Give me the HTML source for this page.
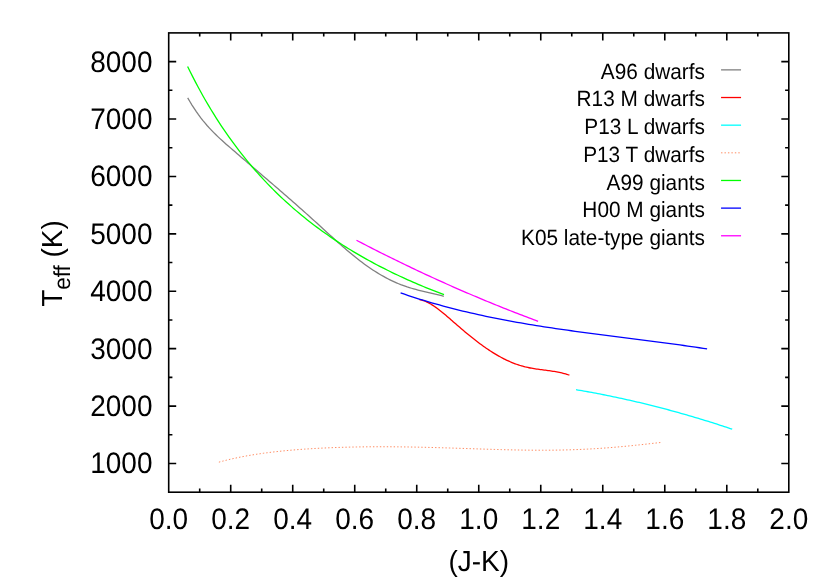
<!DOCTYPE html><html><head><meta charset="utf-8"><style>html,body{margin:0;padding:0;background:#fff}svg{display:block}text{text-rendering:geometricPrecision;font-family:"Liberation Sans",sans-serif;fill:#000}</style></head><body>
<div style="will-change:transform;width:830px;height:581px">
<svg width="830" height="581" viewBox="0 0 830 581">
<rect width="830" height="581" fill="#fff"/>
<path d="M199.70,492.20 v-3.70 M199.70,32.90 v3.70 M230.71,492.20 v-7.50 M230.71,32.90 v7.50 M261.71,492.20 v-3.70 M261.71,32.90 v3.70 M292.72,492.20 v-7.50 M292.72,32.90 v7.50 M323.72,492.20 v-3.70 M323.72,32.90 v3.70 M354.73,492.20 v-7.50 M354.73,32.90 v7.50 M385.74,492.20 v-3.70 M385.74,32.90 v3.70 M416.74,492.20 v-7.50 M416.74,32.90 v7.50 M447.74,492.20 v-3.70 M447.74,32.90 v3.70 M478.75,492.20 v-7.50 M478.75,32.90 v7.50 M509.75,492.20 v-3.70 M509.75,32.90 v3.70 M540.76,492.20 v-7.50 M540.76,32.90 v7.50 M571.76,492.20 v-3.70 M571.76,32.90 v3.70 M602.77,492.20 v-7.50 M602.77,32.90 v7.50 M633.77,492.20 v-3.70 M633.77,32.90 v3.70 M664.78,492.20 v-7.50 M664.78,32.90 v7.50 M695.78,492.20 v-3.70 M695.78,32.90 v3.70 M726.79,492.20 v-7.50 M726.79,32.90 v7.50 M757.79,492.20 v-3.70 M757.79,32.90 v3.70 M168.70,463.49 h7.50 M788.80,463.49 h-7.50 M168.70,434.79 h3.70 M788.80,434.79 h-3.70 M168.70,406.08 h7.50 M788.80,406.08 h-7.50 M168.70,377.38 h3.70 M788.80,377.38 h-3.70 M168.70,348.67 h7.50 M788.80,348.67 h-7.50 M168.70,319.96 h3.70 M788.80,319.96 h-3.70 M168.70,291.26 h7.50 M788.80,291.26 h-7.50 M168.70,262.55 h3.70 M788.80,262.55 h-3.70 M168.70,233.84 h7.50 M788.80,233.84 h-7.50 M168.70,205.14 h3.70 M788.80,205.14 h-3.70 M168.70,176.43 h7.50 M788.80,176.43 h-7.50 M168.70,147.73 h3.70 M788.80,147.73 h-3.70 M168.70,119.02 h7.50 M788.80,119.02 h-7.50 M168.70,90.31 h3.70 M788.80,90.31 h-3.70 M168.70,61.61 h7.50 M788.80,61.61 h-7.50" stroke="#000" stroke-width="1.6" fill="none"/>
<path d="M187.70,97.81 L189.85,101.54 L192.00,105.09 L194.16,108.45 L196.31,111.65 L198.46,114.69 L200.61,117.58 L202.76,120.34 L204.92,122.96 L207.07,125.47 L209.22,127.87 L211.37,130.17 L213.53,132.39 L215.68,134.53 L217.83,136.60 L219.98,138.61 L222.13,140.57 L224.29,142.49 L226.44,144.39 L228.59,146.26 L230.74,148.13 L232.89,150.00 L235.05,151.86 L237.20,153.72 L239.35,155.57 L241.50,157.43 L243.65,159.28 L245.81,161.12 L247.96,162.97 L250.11,164.82 L252.26,166.66 L254.42,168.51 L256.57,170.35 L258.72,172.20 L260.87,174.04 L263.02,175.89 L265.18,177.73 L267.33,179.58 L269.48,181.43 L271.63,183.28 L273.78,185.13 L275.94,186.99 L278.09,188.85 L280.24,190.71 L282.39,192.57 L284.54,194.44 L286.70,196.31 L288.85,198.19 L291.00,200.07 L293.15,201.95 L295.31,203.84 L297.46,205.74 L299.61,207.64 L301.76,209.54 L303.91,211.46 L306.07,213.38 L308.22,215.31 L310.37,217.24 L312.52,219.18 L314.67,221.13 L316.83,223.09 L318.98,225.05 L321.13,227.02 L323.28,228.99 L325.43,230.96 L327.59,232.93 L329.74,234.89 L331.89,236.85 L334.04,238.80 L336.19,240.74 L338.35,242.66 L340.50,244.57 L342.65,246.46 L344.80,248.33 L346.96,250.18 L349.11,252.01 L351.26,253.81 L353.41,255.58 L355.56,257.32 L357.72,259.03 L359.87,260.71 L362.02,262.34 L364.17,263.94 L366.32,265.50 L368.48,267.02 L370.63,268.49 L372.78,269.92 L374.93,271.31 L377.08,272.66 L379.24,273.96 L381.39,275.22 L383.54,276.44 L385.69,277.61 L387.85,278.74 L390.00,279.83 L392.15,280.87 L394.30,281.87 L396.45,282.82 L398.61,283.73 L400.76,284.60 L402.91,285.41 L405.06,286.19 L407.21,286.92 L409.37,287.60 L411.52,288.25 L413.67,288.86 L415.82,289.45 L417.97,290.01 L420.13,290.54 L422.28,291.06 L424.43,291.57 L426.58,292.07 L428.74,292.57 L430.89,293.07 L433.04,293.57 L435.19,294.08 L437.34,294.61 L439.50,295.15 L441.65,295.71 L443.80,296.30" stroke="#808080" stroke-width="1.3" fill="none" stroke-linejoin="round"/>
<path d="M419.40,299.68 L420.66,299.90 L421.92,300.19 L423.18,300.56 L424.44,300.99 L425.70,301.49 L426.96,302.05 L428.22,302.67 L429.48,303.34 L430.74,304.06 L432.01,304.83 L433.27,305.64 L434.53,306.48 L435.79,307.37 L437.05,308.28 L438.31,309.23 L439.57,310.20 L440.83,311.19 L442.09,312.20 L443.35,313.24 L444.61,314.29 L445.87,315.35 L447.13,316.42 L448.39,317.51 L449.65,318.60 L450.91,319.70 L452.17,320.80 L453.43,321.90 L454.69,323.00 L455.95,324.10 L457.22,325.19 L458.48,326.28 L459.74,327.36 L461.00,328.44 L462.26,329.51 L463.52,330.58 L464.78,331.64 L466.04,332.69 L467.30,333.73 L468.56,334.77 L469.82,335.79 L471.08,336.81 L472.34,337.82 L473.60,338.82 L474.86,339.81 L476.12,340.79 L477.38,341.75 L478.64,342.71 L479.90,343.65 L481.16,344.58 L482.43,345.50 L483.69,346.41 L484.95,347.30 L486.21,348.17 L487.47,349.04 L488.73,349.88 L489.99,350.72 L491.25,351.53 L492.51,352.33 L493.77,353.12 L495.03,353.89 L496.29,354.64 L497.55,355.38 L498.81,356.09 L500.07,356.80 L501.33,357.48 L502.59,358.15 L503.85,358.80 L505.11,359.43 L506.37,360.04 L507.64,360.63 L508.90,361.21 L510.16,361.76 L511.42,362.30 L512.68,362.82 L513.94,363.31 L515.20,363.79 L516.46,364.25 L517.72,364.69 L518.98,365.11 L520.24,365.50 L521.50,365.88 L522.76,366.24 L524.02,366.58 L525.28,366.90 L526.54,367.19 L527.80,367.47 L529.06,367.74 L530.32,367.99 L531.58,368.22 L532.85,368.44 L534.11,368.65 L535.37,368.84 L536.63,369.03 L537.89,369.21 L539.15,369.39 L540.41,369.56 L541.67,369.73 L542.93,369.89 L544.19,370.05 L545.45,370.22 L546.71,370.38 L547.97,370.55 L549.23,370.72 L550.49,370.90 L551.75,371.09 L553.01,371.28 L554.27,371.48 L555.53,371.70 L556.79,371.92 L558.06,372.16 L559.32,372.42 L560.58,372.69 L561.84,372.98 L563.10,373.29 L564.36,373.62 L565.62,373.97 L566.88,374.35 L568.14,374.75 L569.40,375.17" stroke="#ff0000" stroke-width="1.3" fill="none" stroke-linejoin="round"/>
<path d="M576.00,389.69 L577.98,390.02 L579.95,390.36 L581.93,390.70 L583.91,391.05 L585.89,391.40 L587.86,391.76 L589.84,392.12 L591.82,392.48 L593.79,392.85 L595.77,393.22 L597.75,393.60 L599.73,393.98 L601.70,394.37 L603.68,394.75 L605.66,395.15 L607.64,395.55 L609.61,395.95 L611.59,396.36 L613.57,396.77 L615.54,397.18 L617.52,397.60 L619.50,398.02 L621.48,398.45 L623.45,398.88 L625.43,399.32 L627.41,399.76 L629.38,400.21 L631.36,400.66 L633.34,401.11 L635.32,401.57 L637.29,402.03 L639.27,402.49 L641.25,402.97 L643.23,403.44 L645.20,403.92 L647.18,404.40 L649.16,404.89 L651.13,405.38 L653.11,405.88 L655.09,406.38 L657.07,406.88 L659.04,407.39 L661.02,407.90 L663.00,408.42 L664.97,408.94 L666.95,409.47 L668.93,410.00 L670.91,410.53 L672.88,411.07 L674.86,411.61 L676.84,412.16 L678.82,412.71 L680.79,413.27 L682.77,413.83 L684.75,414.39 L686.72,414.96 L688.70,415.53 L690.68,416.11 L692.66,416.69 L694.63,417.28 L696.61,417.86 L698.59,418.46 L700.56,419.06 L702.54,419.66 L704.52,420.27 L706.50,420.88 L708.47,421.49 L710.45,422.11 L712.43,422.73 L714.41,423.36 L716.38,423.99 L718.36,424.63 L720.34,425.27 L722.31,425.92 L724.29,426.57 L726.27,427.22 L728.25,427.88 L730.22,428.54 L732.20,429.20" stroke="#00ffff" stroke-width="1.3" fill="none" stroke-linejoin="round"/>
<path d="M218.90,462.16 L222.62,461.16 L226.34,460.21 L230.06,459.31 L233.78,458.47 L237.50,457.67 L241.22,456.92 L244.94,456.21 L248.66,455.54 L252.38,454.91 L256.10,454.32 L259.82,453.76 L263.54,453.23 L267.26,452.74 L270.98,452.27 L274.70,451.83 L278.42,451.42 L282.14,451.03 L285.86,450.66 L289.58,450.32 L293.30,449.99 L297.02,449.69 L300.74,449.41 L304.46,449.14 L308.18,448.89 L311.90,448.66 L315.62,448.44 L319.34,448.24 L323.06,448.06 L326.78,447.89 L330.51,447.73 L334.23,447.58 L337.95,447.45 L341.67,447.33 L345.39,447.23 L349.11,447.13 L352.83,447.05 L356.55,446.97 L360.27,446.91 L363.99,446.86 L367.71,446.82 L371.43,446.79 L375.15,446.77 L378.87,446.76 L382.59,446.76 L386.31,446.76 L390.03,446.78 L393.75,446.80 L397.47,446.84 L401.19,446.88 L404.91,446.93 L408.63,446.98 L412.35,447.05 L416.07,447.12 L419.79,447.19 L423.51,447.28 L427.23,447.36 L430.95,447.46 L434.67,447.56 L438.39,447.66 L442.11,447.77 L445.83,447.88 L449.55,447.99 L453.27,448.11 L456.99,448.23 L460.71,448.35 L464.43,448.47 L468.15,448.60 L471.87,448.72 L475.59,448.84 L479.31,448.96 L483.03,449.08 L486.75,449.20 L490.47,449.31 L494.19,449.43 L497.91,449.53 L501.63,449.63 L505.35,449.73 L509.07,449.82 L512.79,449.90 L516.51,449.97 L520.23,450.04 L523.95,450.10 L527.67,450.15 L531.39,450.18 L535.11,450.21 L538.83,450.22 L542.55,450.23 L546.27,450.22 L549.99,450.19 L553.72,450.16 L557.44,450.10 L561.16,450.04 L564.88,449.95 L568.60,449.86 L572.32,449.74 L576.04,449.61 L579.76,449.46 L583.48,449.30 L587.20,449.12 L590.92,448.92 L594.64,448.70 L598.36,448.47 L602.08,448.22 L605.80,447.95 L609.52,447.67 L613.24,447.37 L616.96,447.05 L620.68,446.72 L624.40,446.38 L628.12,446.02 L631.84,445.65 L635.56,445.26 L639.28,444.87 L643.00,444.47 L646.72,444.06 L650.44,443.64 L654.16,443.22 L657.88,442.80 L661.60,442.37" stroke="#ff7f50" stroke-width="0.9" fill="none" stroke-linejoin="round" stroke-dasharray="1.4 2.05"/>
<path d="M187.61,66.50 L190.20,71.77 L192.79,76.90 L195.38,81.91 L197.97,86.79 L200.56,91.55 L203.15,96.20 L205.74,100.73 L208.33,105.16 L210.92,109.48 L213.51,113.70 L216.10,117.83 L218.69,121.86 L221.28,125.80 L223.87,129.65 L226.46,133.42 L229.05,137.11 L231.64,140.71 L234.23,144.24 L236.82,147.70 L239.41,151.08 L242.00,154.39 L244.59,157.63 L247.18,160.81 L249.77,163.93 L252.36,166.98 L254.95,169.97 L257.54,172.90 L260.13,175.78 L262.72,178.60 L265.31,181.37 L267.90,184.08 L270.49,186.75 L273.08,189.36 L275.67,191.93 L278.26,194.45 L280.85,196.92 L283.44,199.35 L286.03,201.74 L288.62,204.08 L291.21,206.38 L293.80,208.65 L296.39,210.87 L298.98,213.06 L301.57,215.20 L304.16,217.32 L306.75,219.39 L309.34,221.44 L311.93,223.45 L314.52,225.42 L317.11,227.37 L319.70,229.28 L322.29,231.16 L324.88,233.01 L327.47,234.84 L330.06,236.63 L332.65,238.40 L335.24,240.14 L337.83,241.85 L340.42,243.54 L343.01,245.20 L345.60,246.83 L348.19,248.45 L350.78,250.03 L353.37,251.60 L355.96,253.14 L358.55,254.66 L361.14,256.15 L363.73,257.63 L366.32,259.08 L368.91,260.52 L371.50,261.93 L374.09,263.32 L376.68,264.70 L379.27,266.05 L381.86,267.39 L384.45,268.70 L387.04,270.00 L389.63,271.29 L392.22,272.55 L394.81,273.80 L397.40,275.03 L399.99,276.24 L402.58,277.44 L405.17,278.62 L407.76,279.79 L410.35,280.94 L412.94,282.08 L415.53,283.20 L418.12,284.31 L420.71,285.40 L423.30,286.48 L425.89,287.55 L428.48,288.60 L431.07,289.64 L433.66,290.67 L436.25,291.68 L438.84,292.69 L441.43,293.68 L444.02,294.65" stroke="#00ff00" stroke-width="1.3" fill="none" stroke-linejoin="round"/>
<path d="M400.60,292.89 L404.48,294.22 L408.36,295.52 L412.24,296.80 L416.12,298.05 L420.00,299.27 L423.88,300.46 L427.76,301.63 L431.64,302.77 L435.52,303.88 L439.40,304.97 L443.28,306.04 L447.16,307.08 L451.04,308.09 L454.92,309.09 L458.80,310.06 L462.68,311.01 L466.56,311.94 L470.44,312.84 L474.32,313.73 L478.19,314.60 L482.07,315.44 L485.95,316.27 L489.83,317.08 L493.71,317.87 L497.59,318.65 L501.47,319.41 L505.35,320.15 L509.23,320.87 L513.11,321.58 L516.99,322.28 L520.87,322.96 L524.75,323.63 L528.63,324.28 L532.51,324.92 L536.39,325.55 L540.27,326.17 L544.15,326.78 L548.03,327.37 L551.91,327.96 L555.79,328.53 L559.67,329.10 L563.55,329.66 L567.43,330.21 L571.31,330.75 L575.19,331.28 L579.07,331.81 L582.95,332.34 L586.83,332.85 L590.71,333.37 L594.59,333.87 L598.47,334.38 L602.35,334.88 L606.23,335.37 L610.11,335.87 L613.99,336.36 L617.87,336.85 L621.75,337.34 L625.63,337.83 L629.51,338.32 L633.38,338.81 L637.26,339.31 L641.14,339.80 L645.02,340.30 L648.90,340.80 L652.78,341.30 L656.66,341.80 L660.54,342.31 L664.42,342.83 L668.30,343.35 L672.18,343.87 L676.06,344.41 L679.94,344.94 L683.82,345.49 L687.70,346.04 L691.58,346.61 L695.46,347.18 L699.34,347.76 L703.22,348.35 L707.10,348.95" stroke="#0000ff" stroke-width="1.3" fill="none" stroke-linejoin="round"/>
<path d="M356.50,240.28 L358.80,241.47 L361.10,242.67 L363.39,243.86 L365.69,245.04 L367.99,246.22 L370.29,247.40 L372.59,248.57 L374.89,249.74 L377.18,250.90 L379.48,252.06 L381.78,253.21 L384.08,254.36 L386.38,255.50 L388.68,256.65 L390.97,257.78 L393.27,258.91 L395.57,260.04 L397.87,261.16 L400.17,262.28 L402.46,263.40 L404.76,264.50 L407.06,265.61 L409.36,266.71 L411.66,267.81 L413.96,268.90 L416.25,269.99 L418.55,271.07 L420.85,272.15 L423.15,273.22 L425.45,274.29 L427.75,275.36 L430.04,276.42 L432.34,277.47 L434.64,278.53 L436.94,279.57 L439.24,280.62 L441.53,281.66 L443.83,282.69 L446.13,283.72 L448.43,284.75 L450.73,285.77 L453.03,286.78 L455.32,287.79 L457.62,288.80 L459.92,289.81 L462.22,290.80 L464.52,291.80 L466.81,292.79 L469.11,293.77 L471.41,294.76 L473.71,295.73 L476.01,296.71 L478.31,297.67 L480.60,298.64 L482.90,299.60 L485.20,300.55 L487.50,301.50 L489.80,302.45 L492.10,303.39 L494.39,304.32 L496.69,305.26 L498.99,306.19 L501.29,307.11 L503.59,308.03 L505.88,308.94 L508.18,309.85 L510.48,310.76 L512.78,311.66 L515.08,312.56 L517.38,313.45 L519.67,314.34 L521.97,315.22 L524.27,316.10 L526.57,316.98 L528.87,317.85 L531.17,318.71 L533.46,319.58 L535.76,320.43 L538.06,321.29" stroke="#ff00ff" stroke-width="1.3" fill="none" stroke-linejoin="round"/>
<rect x="168.70" y="32.90" width="620.10" height="459.30" fill="none" stroke="#000" stroke-width="1.6"/>
<text transform="translate(152.50,473.49) scale(1,1.06)" font-size="28" text-anchor="end">1000</text>
<text transform="translate(152.50,416.08) scale(1,1.06)" font-size="28" text-anchor="end">2000</text>
<text transform="translate(152.50,358.67) scale(1,1.06)" font-size="28" text-anchor="end">3000</text>
<text transform="translate(152.50,301.26) scale(1,1.06)" font-size="28" text-anchor="end">4000</text>
<text transform="translate(152.50,243.84) scale(1,1.06)" font-size="28" text-anchor="end">5000</text>
<text transform="translate(152.50,186.43) scale(1,1.06)" font-size="28" text-anchor="end">6000</text>
<text transform="translate(152.50,129.02) scale(1,1.06)" font-size="28" text-anchor="end">7000</text>
<text transform="translate(152.50,71.61) scale(1,1.06)" font-size="28" text-anchor="end">8000</text>
<text transform="translate(168.70,529.40) scale(1,1.06)" font-size="28" text-anchor="middle">0.0</text>
<text transform="translate(230.71,529.40) scale(1,1.06)" font-size="28" text-anchor="middle">0.2</text>
<text transform="translate(292.72,529.40) scale(1,1.06)" font-size="28" text-anchor="middle">0.4</text>
<text transform="translate(354.73,529.40) scale(1,1.06)" font-size="28" text-anchor="middle">0.6</text>
<text transform="translate(416.74,529.40) scale(1,1.06)" font-size="28" text-anchor="middle">0.8</text>
<text transform="translate(478.75,529.40) scale(1,1.06)" font-size="28" text-anchor="middle">1.0</text>
<text transform="translate(540.76,529.40) scale(1,1.06)" font-size="28" text-anchor="middle">1.2</text>
<text transform="translate(602.77,529.40) scale(1,1.06)" font-size="28" text-anchor="middle">1.4</text>
<text transform="translate(664.78,529.40) scale(1,1.06)" font-size="28" text-anchor="middle">1.6</text>
<text transform="translate(726.79,529.40) scale(1,1.06)" font-size="28" text-anchor="middle">1.8</text>
<text transform="translate(788.80,529.40) scale(1,1.06)" font-size="28" text-anchor="middle">2.0</text>
<text transform="translate(478.75,571.20) scale(1,1.035)" font-size="28" text-anchor="middle">(J-K)</text>
<text transform="translate(61.50,263.50) rotate(-90) scale(1,1.035)" font-size="28" text-anchor="middle">T<tspan font-size="22.4" dy="8.6">eff</tspan><tspan dy="-8.6"> (K)</tspan></text>
<text transform="translate(704.90,78.80) scale(1,1.06)" font-size="20.8" text-anchor="end">A96 dwarfs</text>
<path d="M721.05,69.87 H741.05" stroke="#808080" stroke-width="1.3" fill="none"/>
<text transform="translate(704.90,106.48) scale(1,1.06)" font-size="20.8" text-anchor="end">R13 M dwarfs</text>
<path d="M721.05,97.52 H741.05" stroke="#ff0000" stroke-width="1.3" fill="none"/>
<text transform="translate(704.90,134.16) scale(1,1.06)" font-size="20.8" text-anchor="end">P13 L dwarfs</text>
<path d="M721.05,125.17 H741.05" stroke="#00ffff" stroke-width="1.3" fill="none"/>
<text transform="translate(704.90,161.84) scale(1,1.06)" font-size="20.8" text-anchor="end">P13 T dwarfs</text>
<path d="M721.05,152.82 H741.05" stroke="#ff7f50" stroke-width="0.9" fill="none" stroke-dasharray="1.4 2.05"/>
<text transform="translate(704.90,189.52) scale(1,1.06)" font-size="20.8" text-anchor="end">A99 giants</text>
<path d="M721.05,180.47 H741.05" stroke="#00ff00" stroke-width="1.3" fill="none"/>
<text transform="translate(704.90,217.20) scale(1,1.06)" font-size="20.8" text-anchor="end">H00 M giants</text>
<path d="M721.05,208.12 H741.05" stroke="#0000ff" stroke-width="1.3" fill="none"/>
<text transform="translate(704.90,244.88) scale(1,1.06)" font-size="20.8" text-anchor="end">K05 late-type giants</text>
<path d="M721.05,235.77 H741.05" stroke="#ff00ff" stroke-width="1.3" fill="none"/>
</svg></div></body></html>
